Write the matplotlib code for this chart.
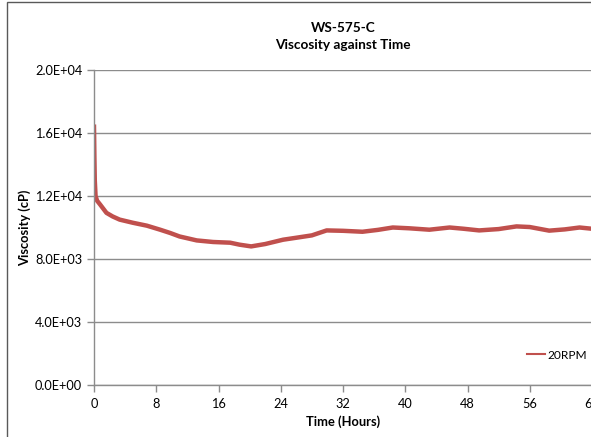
import matplotlib.pyplot as plt
from matplotlib.patches import Rectangle

plt.rcParams['font.family'] = ['Lato', 'DejaVu Sans']

# Data
time_h = [0.0, 0.05, 0.1, 0.2, 0.4, 0.8, 1.6, 2.4, 3.3, 5.0, 6.8, 8.5, 9.8, 11.0,
          13.2, 15.3, 17.5, 18.7, 20.2, 22.0, 24.3, 26.0, 28.0, 29.9, 32.0, 34.5,
          36.5, 38.4, 40.5, 43.1, 45.7, 47.5, 49.5, 52.0, 54.3, 56.0, 58.5, 60.5,
          62.4, 64.0]
viscosity = [16400, 14500, 13000, 12000, 11700, 11450, 10930, 10700, 10500, 10300,
             10115, 9860, 9650, 9430, 9180, 9080, 9035, 8910, 8800, 8950, 9225,
             9350, 9500, 9815, 9790, 9730, 9850, 10000, 9950, 9860, 10000, 9920,
             9815, 9900, 10070, 10030, 9800, 9880, 10000, 9920]
series_label = "20RPM"

fig = plt.figure(figsize=(5.91, 4.37), dpi=100)
ax = fig.add_axes([94 / 591, 52 / 437, 498 / 591, 315 / 437])

# outer chart border (only left and top visible in the crop)
fig.patches.append(Rectangle((7 / 591, -0.5), 2.0, 0.5 + 435 / 437, transform=fig.transFigure,
                             fill=False, edgecolor='#595959', linewidth=1.0))

ax.plot(time_h, viscosity, color='#C0504D', linewidth=3.2, label=series_label,
        solid_joinstyle='round')

ax.set_xlim(0, 64)
ax.set_ylim(0, 20000)
ax.set_xticks(range(0, 65, 8))
ax.set_yticks(range(0, 20001, 4000))
ax.set_yticklabels(['0.0E+00', '4.0E+03', '8.0E+03', '1.2E+04', '1.6E+04', '2.0E+04'])
ax.grid(axis='y', color='#8C8C8C', linewidth=1.0)
ax.set_axisbelow(True)

for s in ['top', 'right']:
    ax.spines[s].set_visible(False)
for s in ['left', 'bottom']:
    ax.spines[s].set_color('#8C8C8C')
    ax.spines[s].set_linewidth(1.0)
ax.tick_params(axis='both', colors='#8C8C8C', labelcolor='black', labelsize=9.2,
               length=5, width=1.0, direction='out')
ax.tick_params(axis='x', pad=4)

ax.set_xlabel('Time (Hours)', fontsize=9.3, fontweight='bold', labelpad=4)
ax.set_ylabel('Viscosity (cP)', fontsize=9.3, fontweight='bold', labelpad=3)
ax.set_title('WS-575-C\nViscosity against Time', fontsize=9.8, fontweight='bold',
             pad=15, linespacing=1.55)

ax.legend(loc='center left', bbox_to_anchor=(0.87, 0.095), frameon=False,
          fontsize=8.6, handlelength=1.5, handletextpad=0.15, borderaxespad=0,
          borderpad=0)
for line in ax.get_legend().get_lines():
    line.set_linewidth(1.5)

fig.savefig('out.png', dpi=100)
